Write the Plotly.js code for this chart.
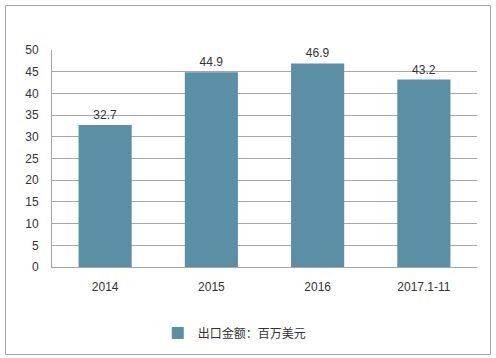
<!DOCTYPE html>
<html><head><meta charset="utf-8">
<script src="https://cdn.plot.ly/plotly-3.0.1.min.js"></script>
<style>
html,body{margin:0;padding:0;background:#fff;}
#wrap{position:relative;width:496px;height:358px;}
#chart{position:absolute;left:0;top:0;width:496px;height:358px;}
#frame{position:absolute;left:5px;top:5px;width:484px;height:348px;border:1px solid #a6a6a6;pointer-events:none;}
</style></head>
<body><div id="wrap"><div id="chart"></div><div id="frame"></div></div>
<script>
const categories = ["2014", "2015", "2016", "2017.1-11"];
const values = [32.7, 44.9, 46.9, 43.2];
const seriesName = "出口金额：百万美元";
const yTicks = [0, 5, 10, 15, 20, 25, 30, 35, 40, 45, 50];

const font = "'Liberation Sans', 'Noto Sans CJK SC', sans-serif";
Plotly.newPlot('chart', [{
  type: 'bar', x: categories, y: values, name: seriesName,
  marker: {color: '#5B8FA6'},
  text: values.map(v => v.toFixed(1)), textposition: 'outside',
  textfont: {family: font, size: 12, color: '#333'},
  cliponaxis: false, hoverinfo: 'none'
}], {
  width: 496, height: 358,
  margin: {l: 52, r: 19, t: 50, b: 90},
  paper_bgcolor: '#fff', plot_bgcolor: '#fff',
  bargap: 0.5,
  showlegend: true,
  legend: {orientation: 'h', x: 0.43, xanchor: 'center', y: -0.298, yanchor: 'middle',
    itemwidth: 30,
    font: {family: "'Noto Sans CJK SC', sans-serif", size: 12, color: '#333'}},
  xaxis: {type: 'category', showline: true, linecolor: '#a6a6a6', linewidth: 1,
    ticks: '', ticklabelstandoff: 9,
    tickfont: {family: font, size: 12, color: '#333'}, showgrid: false},
  yaxis: {range: [0, 50], tickvals: yTicks, showline: true, linecolor: '#a6a6a6', linewidth: 1,
    gridcolor: '#a6a6a6', gridwidth: 1, zeroline: false, ticks: '', ticklabelstandoff: 10,
    tickfont: {family: font, size: 12, color: '#333'}}
}, {staticPlot: true});
</script></body></html>
